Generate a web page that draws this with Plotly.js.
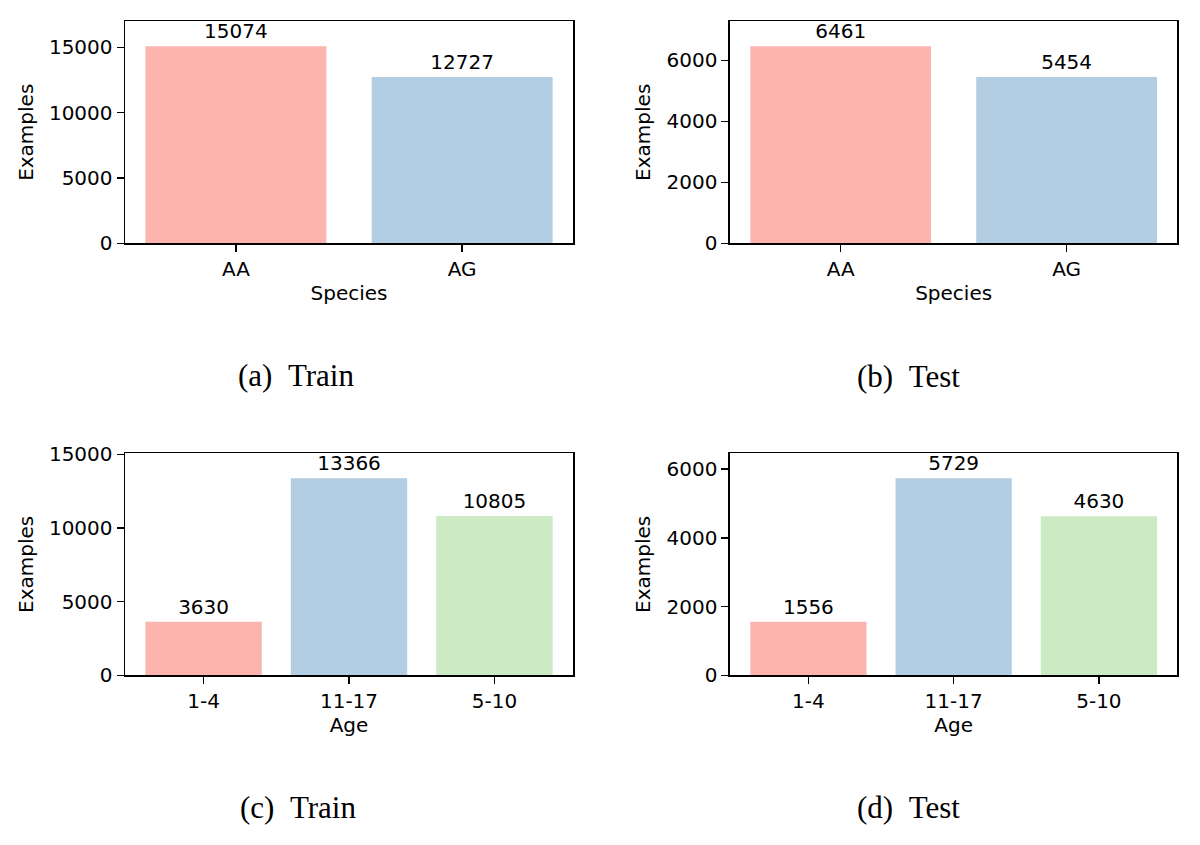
<!DOCTYPE html>
<html>
<head>
<meta charset="utf-8">
<script src="https://cdn.plot.ly/plotly-3.0.1.min.js"></script>
<style>
  html, body { margin: 0; padding: 0; background: #fff; }
  #chart { width: 1200px; height: 845px; }
</style>
</head>
<body>
<div id="chart"></div>
<script>
// data
const species = ["AA", "AG"];
const speciesTrain = [15074, 12727];
const speciesTest = [6461, 5454];
const ages = ["1-4", "11-17", "5-10"];
const ageTrain = [3630, 13366, 10805];
const ageTest = [1556, 5729, 4630];
const captions = ["(a) Train", "(b) Test", "(c) Train", "(d) Test"];

const PASTEL = ["#fbb4ae", "#b3cde3", "#ccebc5"];
const FONT = { family: "DejaVu Sans, sans-serif", size: 20, color: "#000" };

// panel boxes in paper coords
const XL = [0.1042, 0.4775], XR = [0.6083, 0.9811];
const YT = [0.7121, 0.9748], YB = [0.2008, 0.4635];

function bar(cats, vals, n) {
    return {
        type: "bar", x: cats, y: vals, xaxis: "x" + (n > 1 ? n : ""), yaxis: "y" + (n > 1 ? n : ""),
        marker: { color: cats.map((_, i) => PASTEL[i]), line: { width: 0 } },
        text: vals.map(String), textposition: "outside", cliponaxis: false,
        outsidetextfont: FONT, constraintext: "none", hoverinfo: "x+y"
    };
}

function xa(dom, cats, title, anchor) {
    const m = cats.length === 2 ? 0.09 : 0.14;
    return {
        domain: dom, anchor, type: "category", range: [-0.4 - m, cats.length - 0.6 + m],
        showline: true, mirror: true, linecolor: "#000", linewidth: 1.5,
        ticks: "outside", ticklen: 7, tickwidth: 1.5, tickcolor: "#000", showgrid: false,
        tickfont: FONT, title: { text: title, font: FONT, standoff: 6 }
    };
}

function ya(dom, vals, dtick, anchor) {
    return {
        domain: dom, anchor, range: [0, Math.max(...vals) * 1.127], dtick, tickformat: "d",
        showline: true, mirror: true, linecolor: "#000", linewidth: 1.5,
        ticks: "outside", ticklen: 7, tickwidth: 1.5, tickcolor: "#000", showgrid: false, zeroline: false,
        tickfont: FONT, title: { text: "Examples", font: FONT, standoff: 10 }
    };
}

const data = [
    bar(species, speciesTrain, 1),
    bar(species, speciesTest, 2),
    bar(ages, ageTrain, 3),
    bar(ages, ageTest, 4)
];

const capPos = [[0.247, 0.556], [0.757, 0.554], [0.248, 0.044], [0.757, 0.044]];

const layout = {
    width: 1200, height: 845, margin: { l: 0, r: 0, t: 0, b: 0 },
    paper_bgcolor: "#fff", plot_bgcolor: "#fff", showlegend: false, bargap: 0.2,
    font: FONT,
    xaxis: xa(XL, species, "Species", "y"),
    yaxis: ya(YT, speciesTrain, 5000, "x"),
    xaxis2: xa(XR, species, "Species", "y2"),
    yaxis2: ya(YT, speciesTest, 2000, "x2"),
    xaxis3: xa(XL, ages, "Age", "y3"),
    yaxis3: ya(YB, ageTrain, 5000, "x3"),
    xaxis4: xa(XR, ages, "Age", "y4"),
    yaxis4: ya(YB, ageTest, 2000, "x4"),
    annotations: captions.map((c, i) => ({
        text: c.replace(") ", ")&nbsp;&nbsp;"), xref: "paper", yref: "paper", x: capPos[i][0], y: capPos[i][1],
        xanchor: "center", yanchor: "middle", showarrow: false,
        font: { family: "Liberation Serif, serif", size: 31, color: "#000" }
    }))
};

Plotly.newPlot("chart", data, layout, { displayModeBar: false, staticPlot: true });
</script>
</body>
</html>
